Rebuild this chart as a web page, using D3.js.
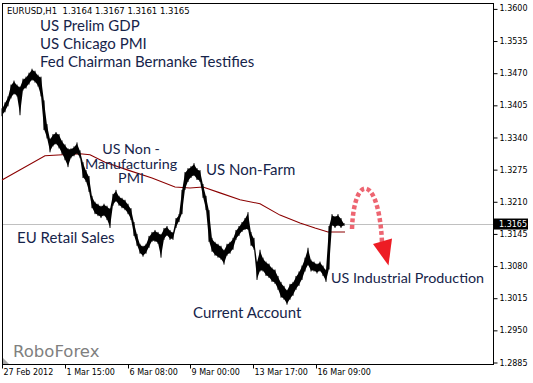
<!DOCTYPE html>
<html><head><meta charset="utf-8">
<script src="https://cdn.jsdelivr.net/npm/d3@7/dist/d3.min.js"></script>
<style>
html,body{margin:0;padding:0;background:#fff;}
svg{display:block;}
</style></head>
<body>
<svg id="c" width="533" height="383"></svg>
<script>
// ---------- DATA ----------
const symbol = "EURUSD,H1";
const lastOHLC = [1.3164, 1.3167, 1.3161, 1.3165];
const currentPrice = 1.3165;

// H1 price envelope sampled every 3 hours (hour offset from chart start)
const sampleStep = 3;
const highs = [
1.3399,1.3411,1.3423,1.3447,1.3455,1.3447,1.3443,1.3459,1.3463,1.3471,
1.3479,1.3475,1.3467,1.3463,1.3415,1.3367,1.3338,1.3347,1.3351,1.3347,
1.3334,1.3326,1.3318,1.3318,1.3322,1.3330,1.3314,1.3290,1.3274,1.3262,
1.3222,1.3210,1.3206,1.3202,1.3206,1.3202,1.3197,1.3226,1.3234,1.3222,
1.3218,1.3214,1.3206,1.3197,1.3169,1.3145,1.3125,1.3121,1.3125,1.3141,
1.3149,1.3153,1.3149,1.3145,1.3157,1.3161,1.3153,1.3149,1.3177,1.3185,
1.3234,1.3270,1.3278,1.3282,1.3288,1.3278,1.3274,1.3246,1.3222,1.3193,
1.3137,1.3129,1.3125,1.3121,1.3113,1.3125,1.3129,1.3137,1.3153,1.3161,
1.3169,1.3177,1.3189,1.3149,1.3137,1.3089,1.3113,1.3097,1.3089,1.3085,
1.3077,1.3073,1.3060,1.3048,1.3040,1.3032,1.3044,1.3048,1.3060,1.3069,
1.3081,1.3097,1.3117,1.3093,1.3089,1.3085,1.3089,1.3081,1.3073,1.3161,
1.3185,1.3181,1.3185,1.3177,1.3167];
const lows = [
1.3383,1.3391,1.3403,1.3419,1.3427,1.3423,1.3385,1.3435,1.3439,1.3447,
1.3455,1.3451,1.3443,1.3423,1.3355,1.3338,1.3310,1.3322,1.3326,1.3318,
1.3306,1.3294,1.3280,1.3298,1.3302,1.3306,1.3298,1.3258,1.3250,1.3230,
1.3197,1.3185,1.3181,1.3177,1.3181,1.3173,1.3157,1.3202,1.3210,1.3202,
1.3197,1.3193,1.3185,1.3173,1.3141,1.3121,1.3105,1.3099,1.3105,1.3117,
1.3129,1.3129,1.3125,1.3097,1.3133,1.3141,1.3133,1.3133,1.3157,1.3169,
1.3185,1.3234,1.3250,1.3258,1.3262,1.3254,1.3250,1.3218,1.3193,1.3129,
1.3109,1.3101,1.3097,1.3093,1.3083,1.3101,1.3105,1.3113,1.3133,1.3141,
1.3149,1.3153,1.3153,1.3121,1.3113,1.3052,1.3069,1.3069,1.3060,1.3056,
1.3048,1.3044,1.3032,1.3016,1.3012,1.3002,1.3012,1.3020,1.3032,1.3040,
1.3052,1.3069,1.3081,1.3069,1.3069,1.3065,1.3069,1.3060,1.3048,1.3073,
1.3161,1.3157,1.3161,1.3157,1.3161];

// moving average (hour offset, value)
const maHours  = [0, 43, 78, 88, 103, 126, 150, 173, 188, 201, 218, 238, 258, 278, 298, 313, 326, 343];
const maValues = [1.3254,1.3303,1.3307,1.3305,1.3290,1.3274,1.3258,1.3240,1.3238,1.3240,1.3228,1.3214,1.3206,1.3183,1.3167,1.3157,1.3149,1.3149];

// axes
const priceTicks = [1.3600,1.3535,1.3470,1.3405,1.3340,1.3275,1.3210,1.3145,1.3080,1.3015,1.2950,1.2885];
const timeTickHours  = [0, 63, 126, 188, 251, 314];
const timeTickLabels = ["27 Feb 2012","1 Mar 15:00","6 Mar 08:00","9 Mar 00:00","13 Mar 17:00","16 Mar 09:00"];

// news annotations
const newsTop = ["US Prelim GDP","US Chicago PMI","Fed Chairman Bernanke Testifies"];
const newsPMI = ["US Non -","Manufacturing","PMI"];
const newsOther = ["US Non-Farm","EU Retail Sales","Current Account","US Industrial Production"];
const brand = "RoboForex";

// ---------- CHART ----------
const svg = d3.select("#c");
const L = 2, T = 3, R = 493, B = 364;

const x = d3.scaleLinear().domain([0, 342]).range([2, 344]);
const y = d3.scaleLinear().domain([1.2885, 1.3600]).range([362.5, 8.9]);

const bars = highs.map((h, i) => ({t: i * sampleStep, h: h, l: lows[i]}));

// frame
svg.append("rect").attr("x", L + 0.5).attr("y", T + 0.5)
  .attr("width", R - L).attr("height", B - T)
  .attr("fill", "#fff").attr("stroke", "#000").attr("stroke-width", 1);

// current price line
svg.append("line").attr("x1", L + 1).attr("x2", R)
  .attr("y1", Math.round(y(currentPrice)) + 0.5).attr("y2", Math.round(y(currentPrice)) + 0.5)
  .attr("stroke", "#c0c0c0").attr("stroke-width", 1);

// moving average
svg.append("path")
  .datum(maHours.map((h, i) => [h, maValues[i]]))
  .attr("fill", "none").attr("stroke", "#8b0000").attr("stroke-width", 1.1)
  .attr("d", d3.line().x(d => x(d[0])).y(d => y(d[1])));

// price envelope
svg.append("path").datum(bars)
  .attr("fill", "#000").attr("stroke", "none")
  .attr("d", d3.area().x(d => x(d.t)).y0(d => y(d.l) - 1).y1(d => y(d.h) + 1));
svg.append("g").selectAll("line").data(bars).join("line")
  .attr("x1", d => x(d.t)).attr("x2", d => x(d.t))
  .attr("y1", d => y(d.h)).attr("y2", d => y(d.l))
  .attr("stroke", "#000").attr("stroke-width", 1);

// right price axis
const yAxis = d3.axisRight(y).tickValues(priceTicks).tickSize(4).tickPadding(2)
  .tickFormat(d3.format(".4f"));
const ya = svg.append("g").attr("transform", `translate(${R + 0.5},0)`).call(yAxis);
ya.select(".domain").remove();
ya.selectAll("line").attr("stroke", "#000");
ya.selectAll("text").attr("font-family", "DejaVu Sans").attr("font-size", 8).attr("fill", "#000");
ya.selectAll(".tick").filter(d => d === 1.3600).select("text").attr("dy", "0.15em");

// current price label
const cy = y(currentPrice);
svg.append("rect").attr("x", 494).attr("y", cy - 5.5).attr("width", 34).attr("height", 11).attr("fill", "#000");
svg.append("text").attr("x", 499).attr("y", cy + 3).attr("font-family", "DejaVu Sans").attr("font-size", 8)
  .attr("fill", "#fff").text(d3.format(".4f")(currentPrice));

// bottom time axis
const xAxis = d3.axisBottom(x).tickValues(timeTickHours).tickSize(4).tickPadding(1)
  .tickFormat((d, i) => timeTickLabels[i]);
const xa = svg.append("g").attr("transform", `translate(0,${B + 0.5})`).call(xAxis);
xa.select(".domain").remove();
xa.selectAll("line").attr("stroke", "#000");
xa.selectAll("text").attr("text-anchor", "start").attr("dx", 1)
  .attr("font-family", "DejaVu Sans").attr("font-size", 8).attr("fill", "#000");

// header
svg.append("text").attr("x", 7).attr("y", 14).attr("font-family", "DejaVu Sans").attr("font-size", 8.5)
  .attr("fill", "#000").attr("xml:space", "preserve")
  .text(symbol + "  " + lastOHLC.map(d3.format(".4f")).join(" "));

// news labels
const newsFont = "Lato";
const newsColor = "#16244a";
const topG = svg.append("g").attr("font-family", newsFont).attr("font-size", 15).attr("fill", newsColor);
newsTop.forEach((s, i) => topG.append("text").attr("x", 40).attr("y", 31 + i * 18).text(s));
newsPMI.forEach((s, i) => topG.append("text").attr("x", 131).attr("y", 154 + i * 14.5)
  .attr("font-size", 14.3).attr("text-anchor", "middle").text(s));
const otherPos = [[206, 175, 15], [17, 243, 15], [193, 318, 15], [331, 283, 14.3]];
newsOther.forEach((s, i) => topG.append("text").attr("x", otherPos[i][0]).attr("y", otherPos[i][1])
  .attr("font-size", otherPos[i][2]).text(s));

// brand
svg.append("text").attr("x", 13).attr("y", 357).attr("font-family", "DejaVu Sans").attr("font-size", 16.5)
  .attr("fill", "#808080").text(brand);

// chart shift marker
svg.append("path").attr("d", "M3,358L3,364L9,364Z").attr("fill", "#a8a8a8");

// forecast arrow
svg.append("path").attr("d", "M352,229 C353,200 360,186 367,189 C375,192 381,215 382,243")
  .attr("fill", "none").attr("stroke", "#ea4a58").attr("stroke-opacity", 0.85)
  .attr("stroke-width", 4.5).attr("stroke-dasharray", "4 2.6");
svg.append("path").attr("d", "M373,244 L392,238.5 L388.5,265.5 Z").attr("fill", "#ed1c24");
</script>
</body></html>
